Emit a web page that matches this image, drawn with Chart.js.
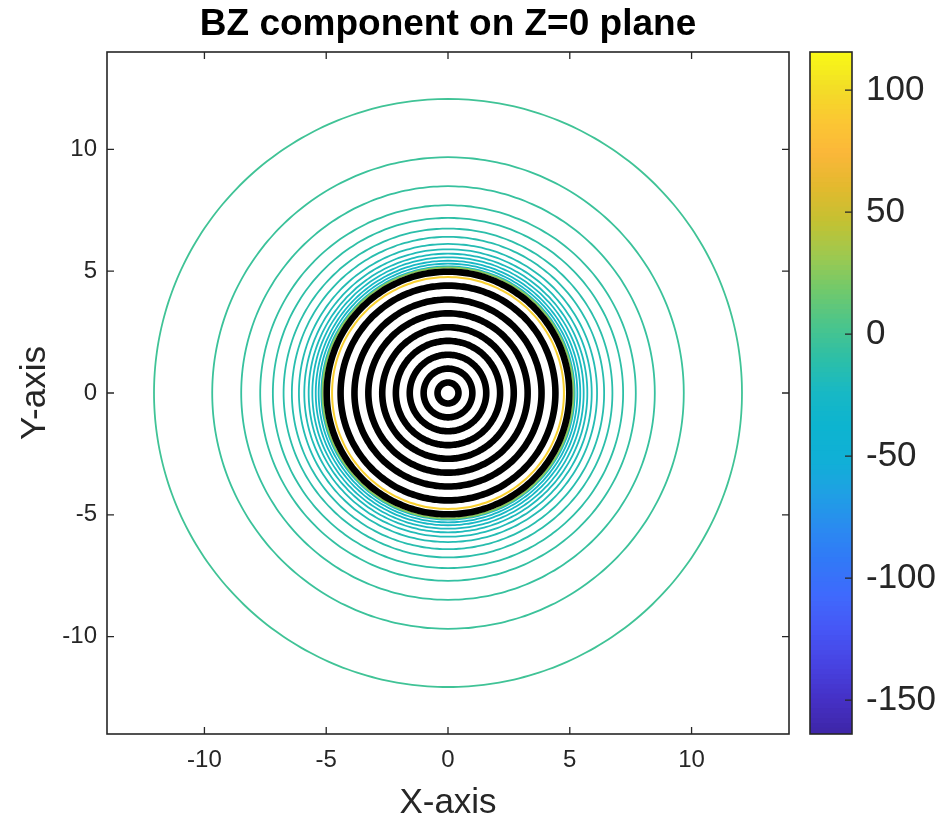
<!DOCTYPE html>
<html><head><meta charset="utf-8">
<script src="https://cdn.jsdelivr.net/npm/chart.js@4.4.0/dist/chart.umd.min.js"></script>
<style>
html,body{margin:0;padding:0;background:#fff;}
#wrap{position:relative;width:941px;height:821px;}
canvas{position:absolute;left:0;top:0;}
</style></head><body>
<div id="wrap"><canvas id="main" width="941" height="821"></canvas><canvas id="cb" width="941" height="821"></canvas></div>
<script>
// ---- data ----
const titleText = 'BZ component on Z=0 plane';
const xLabel = 'X-axis';
const yLabel = 'Y-axis';
const xTicks = [-10, -5, 0, 5, 10];
const yTicks = [-10, -5, 0, 5, 10];
const axisMin = -14, axisMax = 14;
// contour circles outside the coil (radius, level)
const contourRadii  = [12.07, 9.68, 8.49, 7.71, 7.19, 6.75, 6.41, 6.12, 5.90, 5.72, 5.57, 5.43, 5.31, 5.20];
const contourLevels = [-2, -4, -6, -8, -10, -12, -14, -16, -18, -20, -22, -24, -26, -28];
// contours hugging the coil edge
const edgeRadii  = [4.76, 5.15];
const edgeLevels = [92, 25];
// coil turns (black rings)
const coilRadii = [0.43, 1.0, 1.57, 2.14, 2.7, 3.27, 3.84, 4.41, 4.98];
// colorbar
const cbMin = -163.9, cbMax = 115.6;
const cbTicks = [100, 50, 0, -50, -100, -150];

const FONT = '"Liberation Sans", Arial, Helvetica, sans-serif';
const INK = '#262626';

// parula-like colormap stops
const cmapStops = [
  [0.00, [62, 38, 168]], [0.05, [69, 49, 198]], [0.10, [71, 67, 226]], [0.15, [70, 86, 245]],
  [0.20, [63, 105, 253]], [0.25, [50, 120, 247]], [0.30, [42, 138, 240]], [0.35, [31, 160, 228]],
  [0.40, [16, 176, 214]], [0.45, [13, 180, 208]], [0.50, [24, 184, 196]], [0.55, [46, 191, 166]],
  [0.60, [76, 197, 138]], [0.65, [114, 201, 107]], [0.70, [158, 201, 79]], [0.75, [196, 193, 50]],
  [0.80, [227, 185, 46]], [0.85, [251, 183, 58]], [0.90, [251, 200, 50]], [0.95, [242, 224, 37]],
  [1.00, [249, 251, 21]]
];
function cmap(v) {
  let t = (v - cbMin) / (cbMax - cbMin);
  t = Math.max(0, Math.min(1, t));
  for (let i = 1; i < cmapStops.length; i++) {
    if (t <= cmapStops[i][0]) {
      const [t0, c0] = cmapStops[i - 1], [t1, c1] = cmapStops[i];
      const f = (t - t0) / (t1 - t0);
      const c = c0.map((a, k) => Math.round(a + (c1[k] - a) * f));
      return `rgb(${c[0]},${c[1]},${c[2]})`;
    }
  }
  const c = cmapStops[cmapStops.length - 1][1];
  return `rgb(${c[0]},${c[1]},${c[2]})`;
}

const NSEG = 180;
function circle(r) {
  const pts = [];
  for (let i = 0; i <= NSEG; i++) {
    const a = (i / NSEG) * 2 * Math.PI;
    pts.push({ x: r * Math.cos(a), y: r * Math.sin(a) });
  }
  return pts;
}
function ring(r, color, width, order) {
  return { data: circle(r), showLine: true, borderColor: color, borderWidth: width,
           pointRadius: 0, pointHoverRadius: 0, tension: 0.3, fill: false, order: order,
           borderJoinStyle: 'round' };
}

const datasets = [];
coilRadii.forEach(r => datasets.push(ring(r, '#000000', 6.6, 0)));
edgeRadii.forEach((r, i) => datasets.push(ring(r, cmap(edgeLevels[i]), 2, 1)));
contourRadii.forEach((r, i) => datasets.push(ring(r, cmap(contourLevels[i]), 1.8, 2)));

const boxPlugin = {
  id: 'boxTicks',
  afterDraw(chart) {
    const { ctx, chartArea: a, scales } = chart;
    ctx.save();
    // title, centred over the plot area
    ctx.fillStyle = '#000';
    ctx.font = 'bold 37px ' + FONT;
    ctx.textAlign = 'center';
    ctx.textBaseline = 'middle';
    ctx.fillText(titleText, (a.left + a.right) / 2, 25);
    // box and inward ticks
    ctx.strokeStyle = INK;
    ctx.lineWidth = 1.6;
    ctx.strokeRect(a.left, a.top, a.right - a.left, a.bottom - a.top);
    ctx.lineWidth = 1.3;
    const L = 7;
    ctx.beginPath();
    xTicks.forEach(v => {
      const px = scales.x.getPixelForValue(v);
      ctx.moveTo(px, a.bottom); ctx.lineTo(px, a.bottom - L);
      ctx.moveTo(px, a.top); ctx.lineTo(px, a.top + L);
    });
    yTicks.forEach(v => {
      const py = scales.y.getPixelForValue(v);
      ctx.moveTo(a.left, py); ctx.lineTo(a.left + L, py);
      ctx.moveTo(a.right, py); ctx.lineTo(a.right - L, py);
    });
    ctx.stroke();
    ctx.restore();
  }
};

new Chart(document.getElementById('main'), {
  type: 'scatter',
  data: { datasets },
  options: {
    responsive: false, animation: false, devicePixelRatio: 1,
    layout: { padding: { left: 0, right: 152, top: 52, bottom: 0 } },
    plugins: {
      legend: { display: false }, tooltip: { enabled: false }, title: { display: false }
    },
    scales: {
      x: {
        type: 'linear', min: axisMin, max: axisMax, position: 'bottom',
        afterBuildTicks: s => { s.ticks = xTicks.map(v => ({ value: v })); },
        afterFit: s => { s.height = 87; },
        grid: { display: false, drawTicks: false }, border: { display: false },
        ticks: { color: INK, font: { family: FONT, size: 24 }, padding: 12, maxRotation: 0 },
        title: { display: true, text: xLabel, color: INK,
                 font: { family: FONT, size: 35, lineHeight: 1 }, padding: { top: 0, bottom: 0.5 } }
      },
      y: {
        type: 'linear', min: axisMin, max: axisMax, position: 'left',
        afterBuildTicks: s => { s.ticks = yTicks.map(v => ({ value: v })); },
        afterFit: s => { s.width = 107; },
        grid: { display: false, drawTicks: false }, border: { display: false },
        ticks: { color: INK, font: { family: FONT, size: 24 }, padding: 10 },
        title: { display: true, text: yLabel, color: INK,
                 font: { family: FONT, size: 35, lineHeight: 1 }, padding: { top: 17.5, bottom: 0 } }
      }
    }
  },
  plugins: [boxPlugin]
});

// ---- colorbar ----
const NB = 140;
const cbBands = [];
for (let i = 0; i < NB; i++) {
  const lo = cbMin + (cbMax - cbMin) * i / NB;
  const hi = cbMin + (cbMax - cbMin) * (i + 1) / NB;
  cbBands.push({ data: [[lo, hi + 0.4]], backgroundColor: cmap((lo + hi) / 2), borderWidth: 0,
                 grouped: false, barPercentage: 1, categoryPercentage: 1 });
}
const cbPlugin = {
  id: 'cbBox',
  afterDraw(chart) {
    const { ctx, chartArea: a, scales } = chart;
    ctx.save();
    ctx.strokeStyle = INK;
    ctx.lineWidth = 1.6;
    ctx.strokeRect(a.left, a.top, a.right - a.left, a.bottom - a.top);
    ctx.lineWidth = 1.3;
    ctx.beginPath();
    cbTicks.forEach(v => {
      const py = scales.y.getPixelForValue(v);
      ctx.moveTo(a.right, py); ctx.lineTo(a.right - 7, py);
    });
    ctx.stroke();
    ctx.restore();
  }
};
new Chart(document.getElementById('cb'), {
  type: 'bar',
  data: { labels: ['cb'], datasets: cbBands },
  options: {
    responsive: false, animation: false, devicePixelRatio: 1,
    layout: { padding: { left: 810, right: 0, top: 52, bottom: 87 } },
    plugins: { legend: { display: false }, tooltip: { enabled: false }, title: { display: false } },
    scales: {
      x: { display: false },
      y: {
        position: 'right', min: cbMin, max: cbMax,
        afterBuildTicks: s => { s.ticks = cbTicks.map(v => ({ value: v })); },
        afterFit: s => { s.width = 89; },
        grid: { display: false, drawTicks: false }, border: { display: false },
        ticks: { color: INK, font: { family: FONT, size: 35 }, padding: 14 }
      }
    }
  },
  plugins: [cbPlugin]
});
</script>
</body></html>
